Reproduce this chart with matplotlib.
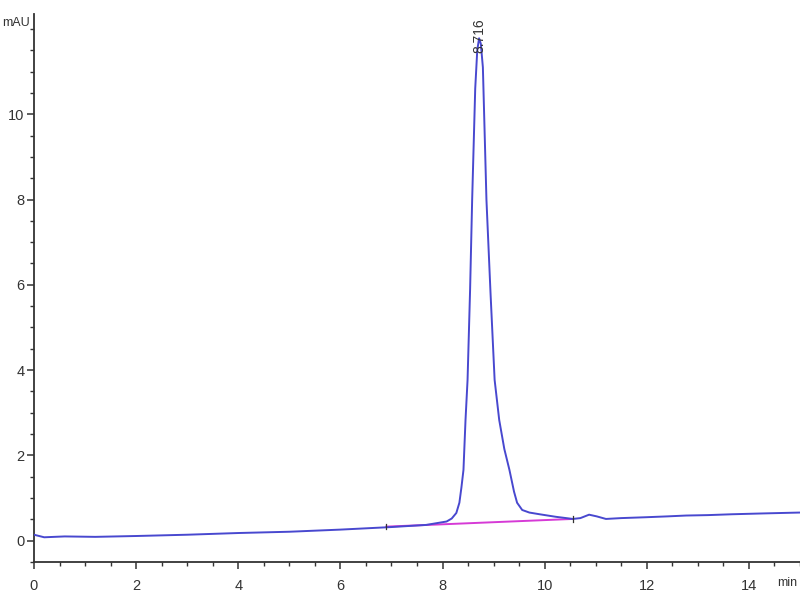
import matplotlib
matplotlib.use("Agg")
import matplotlib.pyplot as plt
from matplotlib.ticker import MultipleLocator, FixedLocator

plt.rcParams['font.family'] = ['Liberation Sans Narrow', 'Liberation Sans', 'DejaVu Sans']

# chromatogram trace (min, mAU)
time_min = [0.0, 0.2, 0.6, 1.2, 2.0, 3.0, 4.0, 5.0, 6.0, 7.0, 7.68, 8.08, 8.18,
            8.27, 8.33, 8.37, 8.41, 8.45, 8.49, 8.54, 8.58, 8.64, 8.68, 8.716,
            8.75, 8.79, 8.86, 8.94, 9.02, 9.11, 9.21, 9.31, 9.40, 9.46, 9.56,
            9.70, 9.90, 10.22, 10.42, 10.55, 10.70, 10.87, 11.02, 11.20, 11.50,
            11.98, 12.40, 12.77, 13.20, 13.67, 14.30, 15.0]
signal = [0.14, 0.08, 0.10, 0.09, 0.11, 0.14, 0.18, 0.21, 0.26, 0.32, 0.37, 0.45, 0.52,
          0.65, 0.89, 1.25, 1.66, 2.83, 3.77, 5.90, 7.99, 10.60, 11.50, 11.78,
          11.65, 11.10, 7.99, 5.80, 3.77, 2.83, 2.15, 1.66, 1.15, 0.89, 0.72,
          0.66, 0.62, 0.56, 0.53, 0.51, 0.53, 0.61, 0.57, 0.51, 0.53,
          0.55, 0.57, 0.59, 0.60, 0.62, 0.64, 0.66]

# integration baseline of the peak
base_t = [6.9, 10.55]
base_y = [0.33, 0.51]

peak_rt = 8.716
peak_h = 11.78

y_major = [0, 2, 4, 6, 8, 10]

fig = plt.figure(figsize=(8, 6), dpi=100)
ax = fig.add_axes([0.0425, 0.0633, 0.9575, 0.9134])

ax.plot(time_min, signal, color='#4848cf', lw=1.4, zorder=3)
ax.plot(base_t, base_y, color='#d63ad6', lw=1.4, zorder=2)
for bt, by in zip(base_t, base_y):
    ax.plot([bt, bt], [by - 0.06, by + 0.06], color='#333333', lw=0.9, zorder=4)

ax.text(peak_rt, peak_h - 0.35, f'{peak_rt:.3f}', rotation=90, ha='center', va='bottom',
        fontsize=10, color='#333333')

ax.set_xlim(0, 15)
ax.set_ylim(-0.5, 12.35)
ax.xaxis.set_major_locator(MultipleLocator(2))
ax.xaxis.set_minor_locator(MultipleLocator(0.5))
ax.yaxis.set_major_locator(FixedLocator(y_major))
ax.yaxis.set_minor_locator(MultipleLocator(0.5))

for s in ['top', 'right']:
    ax.spines[s].set_visible(False)
for s in ['left', 'bottom']:
    ax.spines[s].set_linewidth(1.3)
    ax.spines[s].set_color('#333333')

ax.tick_params(axis='both', which='major', direction='out', length=5, width=1.1,
               colors='#333333', labelsize=10.5)
ax.tick_params(axis='both', which='minor', direction='out', length=3, width=1.0,
               colors='#333333')
ax.tick_params(axis='x', which='major', pad=7)
ax.tick_params(axis='y', which='major', pad=2)

fig.text(0.003, 0.962, 'mAU', fontsize=9, color='#333333', ha='left', va='center')
fig.text(0.996, 0.028, 'min', fontsize=9, color='#333333', ha='right', va='center')

fig.savefig('out.png', dpi=100)
